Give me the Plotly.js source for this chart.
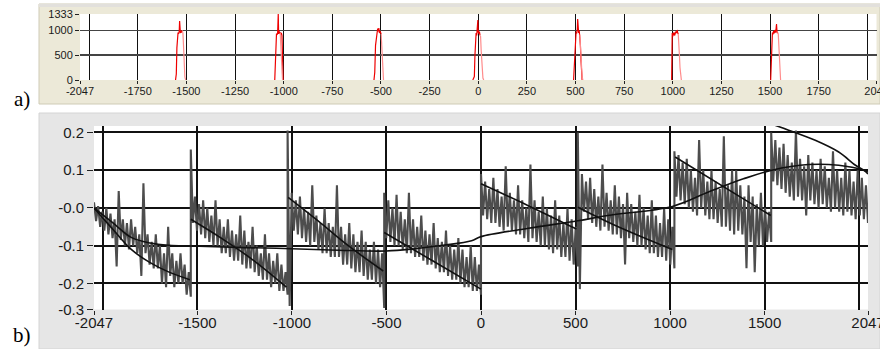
<!DOCTYPE html>
<html>
<head>
<meta charset="utf-8">
<script src="https://cdn.plot.ly/plotly-3.0.1.min.js"></script>
<style>html,body{margin:0;padding:0;background:#fff;}#chart{width:880px;height:349px;}</style>
</head>
<body>
<div id="chart"></div>
<script>
// ---------- Panel a: histogram peaks ----------
const peakRedX = [
  [-1556,-1552,-1549,-1546,-1543,-1540,-1537,-1535,-1533,-1531,-1528,-1525,-1521],
  [-1046,-1043,-1040,-1037,-1034,-1031,-1028,-1026,-1024,-1021,-1018,-1015,-1012,-1009,-1006,-1003],
  [-536,-532,-528,-524,-520,-517,-514,-511,-508,-505,-502,-499],
  [-28,-24,-20,-17,-14,-11,-8,-5,-2,0,3,6,9],
  [490,494,497,500,503,506,509,511,513,516,519,522,525,528,531,534],
  [994,997,1000,1003,1006,1009,1012,1016,1020,1022,1025,1028],
  [1503,1506,1509,1512,1515,1518,1521,1524,1527,1530,1533,1536,1539]
];
const peakRedY = [
  [0,120,650,900,960,930,980,1190,1000,950,990,960,1000],
  [0,480,880,940,910,960,1333,930,990,940,960,920,950,900,350,0],
  [0,150,700,900,950,1040,980,1050,950,990,940,930],
  [0,60,70,500,850,950,900,1000,1210,960,940,980,900],
  [0,300,800,930,980,940,1010,1230,980,950,1000,900,700,400,100,0],
  [0,950,880,930,960,900,940,980,950,1010,960,930],
  [0,500,900,960,920,990,940,1010,960,1000,1130,950,960]
];
const peakPinkX = [
  [-1521,-1518,-1515,-1512,-1508,-1504],
  [-1018,-1014,-1010,-1006],
  [-499,-496,-493,-490,-487],
  [9,12,15,18,21,24,28],
  [522,526,530,534,538],
  [1028,1031,1034,1037,1040,1044],
  [1539,1542,1545,1548,1551,1554]
];
const peakPinkY = [
  [1000,950,700,300,60,0],
  [950,700,250,0],
  [930,700,350,80,0],
  [900,880,600,300,100,40,0],
  [920,600,200,60,0],
  [930,800,500,250,60,0],
  [960,930,700,300,50,0]
];
const gridXa = [-2000,-1750,-1500,-1250,-1000,-750,-500,-250,0,250,500,750,1000,1250,1500,1750,2000];
const labelXa = [-2047,-1750,-1500,-1250,-1000,-750,-500,-250,0,250,500,750,1000,1250,1500,1750,2047];
const gridYa = [500,1000];
const labelYa = [0,500,1000,1333];

// ---------- Panel b: error signal ----------
const segStart = [-2047,-1535,-1023,-512,0,512,1023,1535];
const segEnd   = [-1535,-1023,-512,0,512,1023,1535,2047];
const seg1 = [0.015,-0.035,0.005,-0.05,-0.01,-0.06, 0.0,-0.07,-0.015,-0.08,-0.03,-0.155,
  0.045,-0.085,-0.03,-0.1,-0.04,-0.11, -0.03,-0.1,-0.05,-0.12,-0.07,-0.18,
  0.065,-0.12,-0.07,-0.15,-0.09,-0.16, -0.07,-0.16,-0.1,-0.2,-0.12,-0.21,
  -0.05,-0.18,-0.12,-0.21,-0.14,-0.2, -0.12,-0.2,-0.15,-0.23,-0.17,-0.235];
const seg2 = [0.155,-0.04,0.03,-0.06,0.01,-0.07, 0.02,-0.08,0.0,-0.09,-0.02,-0.1,
  0.02,-0.1,-0.03,-0.12,-0.05,-0.12, -0.03,-0.13,-0.06,-0.14,-0.07,-0.14,
  -0.02,-0.15,-0.06,-0.16,-0.09,-0.16, -0.05,-0.17,-0.1,-0.18,-0.12,-0.19,
  -0.07,-0.19,-0.12,-0.21,-0.14,-0.2, -0.12,-0.22,-0.15,-0.22,-0.17,-0.23];
const seg3 = [0.205,-0.26,0.04,-0.06,0.02,-0.07, 0.03,-0.08,0.0,-0.09,-0.01,-0.1,
  0.06,-0.09,-0.02,-0.11,-0.04,-0.12, 0.0,-0.12,-0.04,-0.13,-0.05,-0.13,
  0.06,-0.13,-0.05,-0.15,-0.07,-0.15, -0.04,-0.16,-0.07,-0.17,-0.09,-0.17,
  -0.06,-0.18,-0.09,-0.19,-0.11,-0.19, -0.09,-0.2,-0.11,-0.21,-0.12,-0.265];
const seg4 = [0.04,-0.08,0.02,-0.09,0.0,-0.1, 0.035,-0.1,-0.01,-0.11,-0.03,-0.12,
  0.04,-0.12,-0.03,-0.13,-0.05,-0.13, -0.02,-0.14,-0.06,-0.15,-0.07,-0.15,
  -0.04,-0.16,-0.08,-0.17,-0.09,-0.17, -0.06,-0.18,-0.1,-0.19,-0.11,-0.19,
  -0.08,-0.2,-0.11,-0.21,-0.13,-0.21, -0.1,-0.22,-0.13,-0.22,-0.15,-0.23];
const seg5 = [0.09,-0.02,0.07,-0.03,0.05,-0.04, 0.08,-0.04,0.05,-0.05,0.03,-0.06,
  0.11,-0.05,0.04,-0.06,0.02,-0.07, 0.06,-0.07,0.02,-0.08,0.0,-0.09,
  0.115,-0.08,0.02,-0.09,-0.01,-0.1, 0.03,-0.1,0.0,-0.11,-0.02,-0.12,
  0.02,-0.11,-0.02,-0.13,-0.04,-0.13, 0.0,-0.14,-0.03,-0.15,-0.05,-0.155];
const seg6 = [0.2,-0.215,0.09,-0.01,0.07,-0.03, 0.08,-0.04,0.05,-0.05,0.03,-0.06,
  0.115,-0.05,0.04,-0.06,0.02,-0.07, 0.06,-0.07,0.03,-0.08,0.01,-0.15,
  0.04,-0.08,0.01,-0.09,-0.01,-0.1, 0.035,-0.1,0.0,-0.11,-0.02,-0.12,
  0.02,-0.12,-0.02,-0.13,-0.04,-0.13, 0.0,-0.14,-0.03,-0.15,-0.05,-0.16];
const seg7 = [0.15,0.03,0.14,0.02,0.12,0.01, 0.13,0.0,0.1,-0.01,0.08,-0.02,
  0.18,0.0,0.1,-0.02,0.07,-0.03, 0.1,-0.03,0.07,-0.04,0.05,-0.05,
  0.19,-0.05,0.06,-0.06,0.1,-0.07, 0.1,-0.06,0.06,-0.07,0.03,-0.16,
  0.06,-0.09,0.03,-0.17,0.01,-0.1, 0.04,-0.1,0.0,-0.09,-0.01,-0.09];
const seg8 = [0.2,0.07,0.18,0.06,0.16,0.05, 0.17,0.04,0.14,0.03,0.12,0.02,
  0.205,0.03,0.13,0.02,0.11,-0.02, 0.14,0.02,0.12,0.01,0.1,0.0,
  0.13,0.01,0.11,0.0,0.08,-0.01, 0.15,0.0,0.1,-0.01,0.08,-0.02,
  0.12,-0.01,0.1,-0.02,0.07,-0.03, 0.1,-0.02,0.08,-0.03,0.06,-0.04];
const segValues = [seg1,seg2,seg3,seg4,seg5,seg6,seg7,seg8];

// per-segment fitted curves
const fitX = [
  [-2047,-1950,-1850,-1750,-1650,-1540],
  [-1535,-1380,-1200,-1029],
  [-1020,-860,-702,-517],
  [-512,-256,0],
  [0,250,505],
  [512,705,1012],
  [1027,1388,1533],
  [1538,1627,1768,1892,1981,2024,2047]
];
const fitY = [
  [0.0,-0.055,-0.11,-0.145,-0.17,-0.19],
  [-0.03,-0.078,-0.14,-0.21],
  [0.028,-0.035,-0.1,-0.167],
  [-0.065,-0.14,-0.215],
  [0.064,0.006,-0.056],
  [0.002,-0.045,-0.11],
  [0.135,0.024,-0.02],
  [0.222,0.206,0.179,0.148,0.113,0.1,0.09]
];
// long global trend curve
const trendX = [-2047,-1950,-1850,-1750,-1650,-1535,-1250,-1000,-750,-500,-350,-200,-50,0,250,512,670,1012,1203,1388,1538,1733,1892,2024,2047];
const trendY = [0.0,-0.038,-0.078,-0.093,-0.099,-0.101,-0.105,-0.108,-0.112,-0.114,-0.108,-0.099,-0.087,-0.076,-0.054,-0.034,-0.02,0.004,0.042,0.077,0.1,0.115,0.113,0.1,0.095];

const gridXb = [-2000,-1500,-1000,-500,0,500,1000,1500,2000];
const labelXb = [-2047,-1500,-1000,-500,0,500,1000,1500,2047];
const gridYb = [-0.2,-0.1,0,0.1,0.2];
const labelYb = [0.2,0.1,0,-0.1,-0.2,-0.269];
const labelYbText = ['0.2','0.1','-0.0','-0.1','-0.2','-0.3'];

// ---------- build traces ----------
function joinWithGaps(arrs){ const out=[]; arrs.forEach((a,i)=>{ if(i) out.push(null); out.push(...a); }); return out; }
const noiseX = [], noiseY = [];
segValues.forEach((vals,k)=>{
  const n = vals.length;
  vals.forEach((v,i)=>{ noiseX.push(segStart[k] + i*(segEnd[k]-segStart[k])/(n-1)); noiseY.push(v); });
});

// grid axes: x, y, x2, y2 ; label axes (overlaying, same ranges): x3, y3, x4, y4
const traces = [
  {x: joinWithGaps(peakRedX), y: joinWithGaps(peakRedY), xaxis:'x', yaxis:'y', mode:'lines',
   line:{color:'#ee0000', width:1.2}, hoverinfo:'skip', connectgaps:false},
  {x: joinWithGaps(peakPinkX), y: joinWithGaps(peakPinkY), xaxis:'x3', yaxis:'y', mode:'lines',
   line:{color:'#ff8c8c', width:1.2}, hoverinfo:'skip', connectgaps:false},
  {x: [], y: [], xaxis:'x', yaxis:'y3', mode:'lines', hoverinfo:'skip'},
  {x: noiseX, y: noiseY, xaxis:'x2', yaxis:'y2', mode:'lines',
   line:{color:'#4d4d4d', width:2.1}, hoverinfo:'skip'},
  {x: trendX, y: trendY, xaxis:'x4', yaxis:'y2', mode:'lines', line:{color:'#111', width:1.6, shape:'spline'}, hoverinfo:'skip'},
  {x: joinWithGaps(fitX), y: joinWithGaps(fitY), xaxis:'x2', yaxis:'y4', mode:'lines', line:{color:'#111', width:1.6, shape:'spline'}, hoverinfo:'skip', connectgaps:false}
];

const W = 880, H = 349;
const fx = p => p / W, fy = p => (H - p) / H;
const tickFontA = {family:'Liberation Sans, Arial, sans-serif', size:11, color:'#1a1a1a'};
const tickFontB = {family:'Liberation Sans, Arial, sans-serif', size:15, color:'#1a1a1a'};

const layout = {
  width: W, height: H,
  margin: {l:0, r:0, t:0, b:0},
  paper_bgcolor: '#ffffff',
  plot_bgcolor: '#ffffff',
  showlegend: false,
  // panel a
  xaxis: {domain:[fx(80), fx(876.5)], range:[-2047,2047], anchor:'y', tickmode:'array', tickvals:gridXa,
          showticklabels:false, ticks:'', showgrid:true, gridcolor:'#111', gridwidth:1, zeroline:false, showline:false, fixedrange:true},
  yaxis: {domain:[fy(80), fy(14)], range:[0,1333], anchor:'x', tickmode:'array', tickvals:gridYa,
          showticklabels:false, ticks:'', showgrid:true, gridcolor:'#444', gridwidth:1.5, zeroline:false, showline:false, fixedrange:true},
  xaxis3: {overlaying:'x', anchor:'y', side:'bottom', range:[-2047,2047], tickmode:'array', tickvals:labelXa,
           ticktext: labelXa.map(String), ticks:'outside', ticklen:3, tickcolor:'#222', tickwidth:1, tickfont:tickFontA,
           ticklabelstandoff:-2, ticklabeloverflow:'allow', showgrid:false, zeroline:false, showline:false, fixedrange:true},
  yaxis3: {overlaying:'y', anchor:'x', side:'left', range:[0,1333], tickmode:'array', tickvals:labelYa,
           ticktext: labelYa.map(String), ticks:'outside', ticklen:4, tickcolor:'#222', tickwidth:1, tickfont:tickFontA,
           ticklabeloverflow:'allow', showgrid:false, zeroline:false, showline:false, fixedrange:true},
  // panel b
  xaxis2: {domain:[fx(94), fx(868)], range:[-2047,2047], anchor:'y2', tickmode:'array', tickvals:gridXb,
           showticklabels:false, ticks:'', showgrid:true, gridcolor:'#111', gridwidth:2, zeroline:false, showline:false, fixedrange:true},
  yaxis2: {domain:[fy(309.5), fy(126)], range:[-0.269,0.217], anchor:'x2', tickmode:'array', tickvals:gridYb,
           showticklabels:false, ticks:'', showgrid:true, gridcolor:'#111', gridwidth:2, zeroline:false, showline:false, fixedrange:true},
  xaxis4: {overlaying:'x2', anchor:'y2', side:'bottom', range:[-2047,2047], tickmode:'array', tickvals:labelXb,
           ticktext: labelXb.map(String), ticks:'outside', ticklen:4, tickcolor:'#222', tickwidth:1, tickfont:tickFontB,
           ticklabelstandoff:-5, ticklabeloverflow:'allow', showgrid:false, zeroline:false, showline:false, fixedrange:true},
  yaxis4: {overlaying:'y2', anchor:'x2', side:'left', range:[-0.269,0.217], tickmode:'array', tickvals:labelYb,
           ticktext: labelYbText, ticks:'outside', ticklen:6, tickcolor:'#222', tickwidth:1, tickfont:tickFontB,
           ticklabeloverflow:'allow', showgrid:false, zeroline:false, showline:false, fixedrange:true},
  shapes: [
    {type:'rect', xref:'paper', yref:'paper', x0:fx(39), x1:1, y0:fy(104), y1:fy(4), fillcolor:'#ECE9D8', line:{color:'#cfcbb6', width:1}, layer:'below'},
    {type:'rect', xref:'paper', yref:'paper', x0:fx(39), x1:1, y0:fy(7), y1:fy(4), fillcolor:'#e2e0dc', line:{width:0}, layer:'below'},
    {type:'rect', xref:'paper', yref:'paper', x0:fx(39), x1:1, y0:0, y1:fy(113), fillcolor:'#E6E6E6', line:{color:'#d4d4d4', width:1}, layer:'below'},
    {type:'rect', xref:'x domain', yref:'y domain', x0:0, x1:1, y0:0, y1:1, fillcolor:'#ffffff', line:{width:0}, layer:'below'},
    {type:'rect', xref:'x2 domain', yref:'y2 domain', x0:0, x1:1, y0:0, y1:1, fillcolor:'#ffffff', line:{width:0}, layer:'below'}
  ],
  annotations: [
    {text:'a)', xref:'paper', yref:'paper', x:fx(22), y:fy(99), showarrow:false, xanchor:'center', yanchor:'middle',
     font:{family:'Liberation Serif, Times New Roman, serif', size:21, color:'#000'}},
    {text:'b)', xref:'paper', yref:'paper', x:fx(22), y:fy(335), showarrow:false, xanchor:'center', yanchor:'middle',
     font:{family:'Liberation Serif, Times New Roman, serif', size:21, color:'#000'}}
  ]
};

Plotly.newPlot('chart', traces, layout, {staticPlot:true, displayModeBar:false});
</script>
</body>
</html>
